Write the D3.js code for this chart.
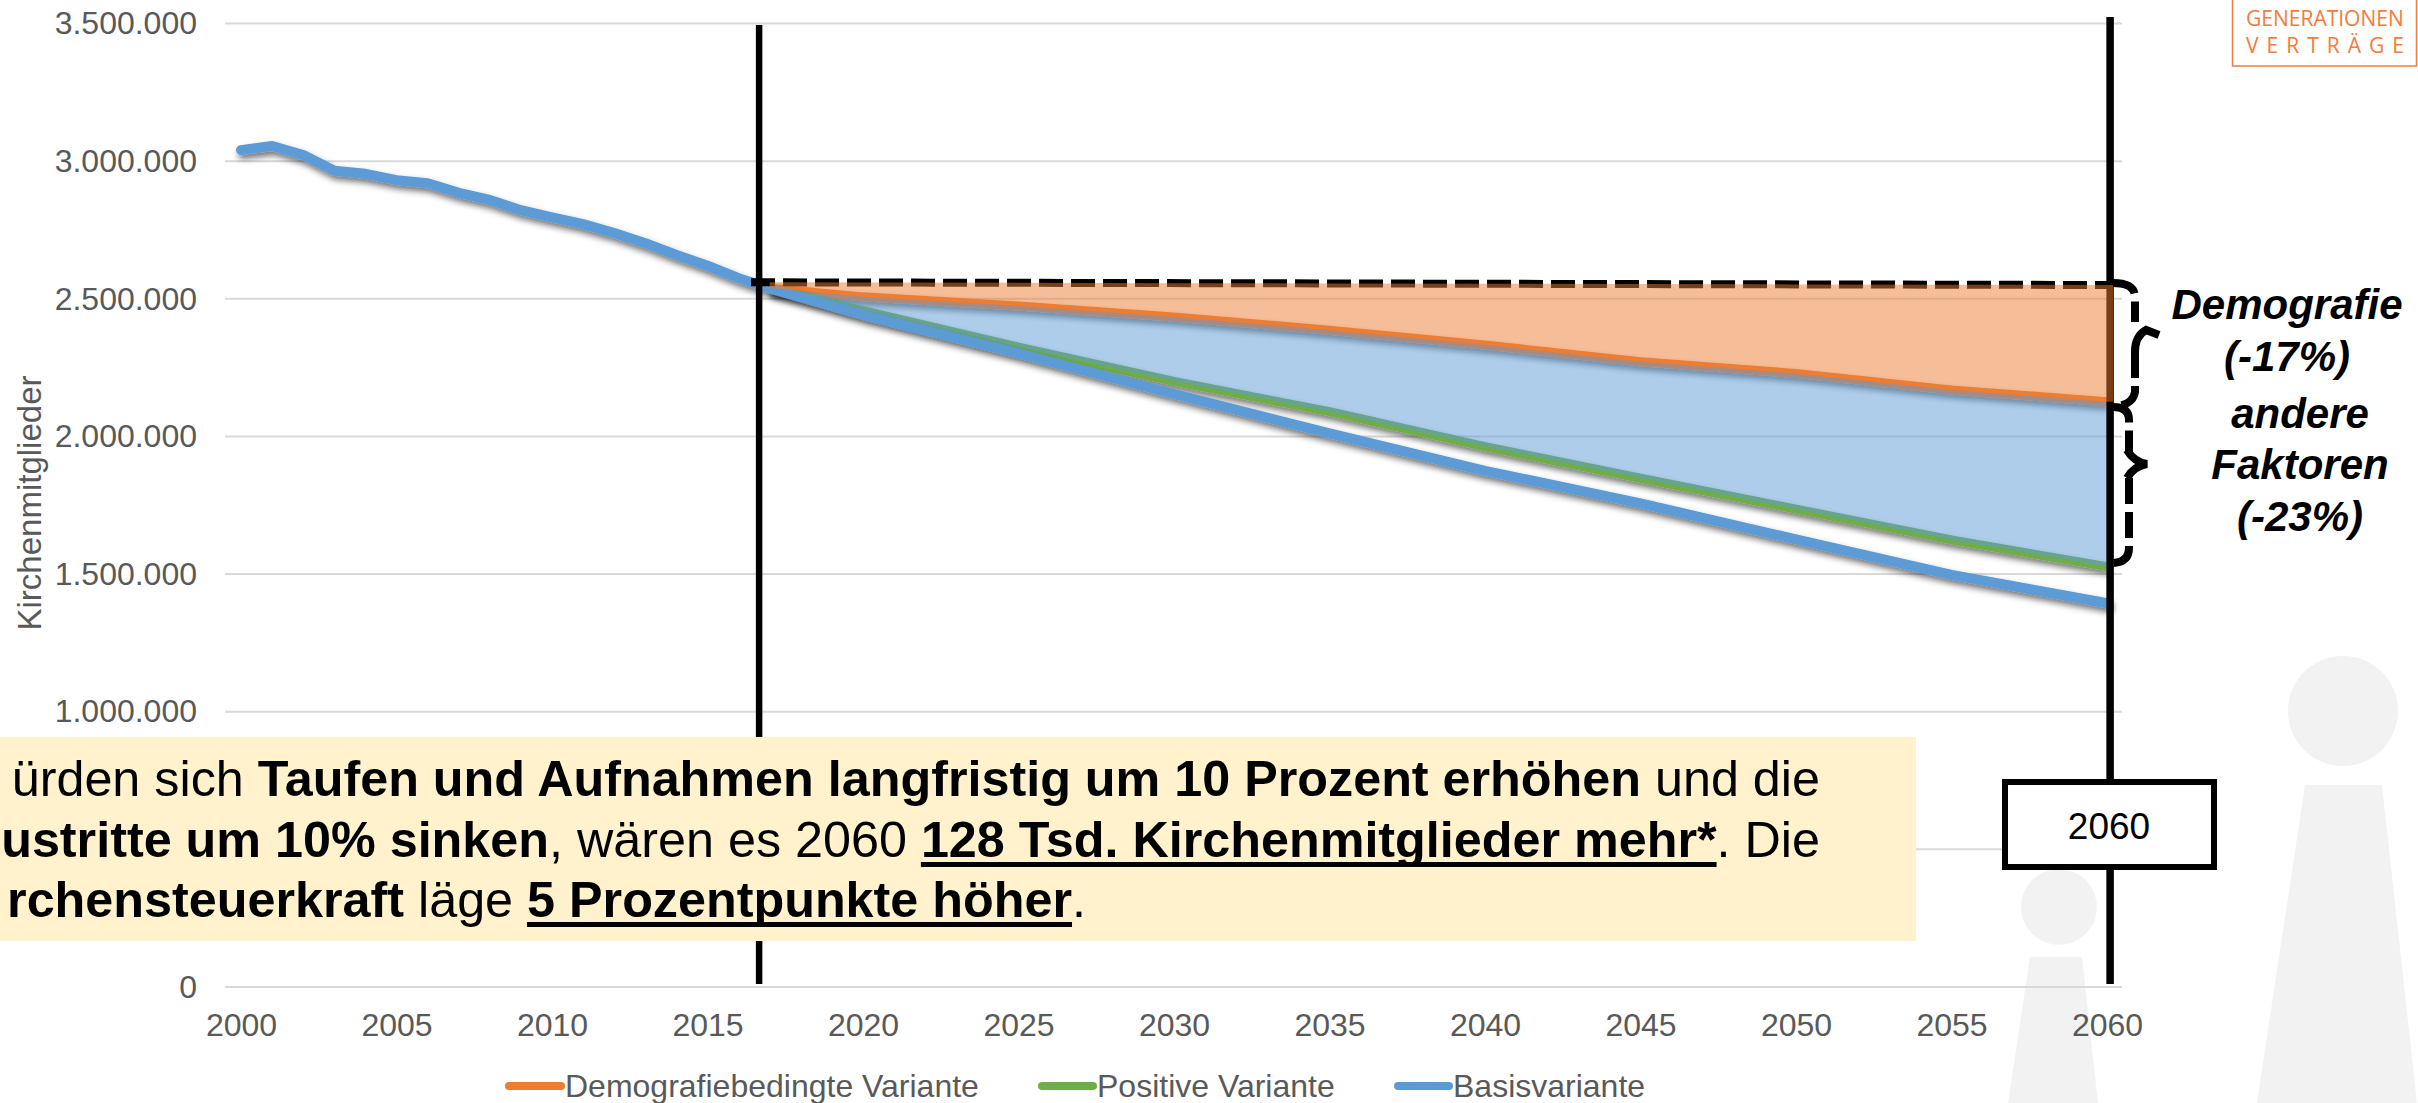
<!DOCTYPE html>
<html>
<head>
<meta charset="utf-8">
<script src="https://d3js.org/d3.v7.min.js"></script>
<style>
html, body { margin: 0; padding: 0; background: #fff; overflow: hidden; }
text { font-family: "Liberation Sans", Arial, sans-serif; }
</style>
</head>
<body>
<div id="chart"></div>
<script>
var yTicks = [0, 500000, 1000000, 1500000, 2000000, 2500000, 3000000, 3500000];
var yHiddenLabel = 500000; // sits behind the yellow note in the original
var xTicks = [2000, 2005, 2010, 2015, 2020, 2025, 2030, 2035, 2040, 2045, 2050, 2055, 2060];

var histYears = [2000, 2001, 2002, 2003, 2004, 2005, 2006, 2007, 2008, 2009, 2010, 2011, 2012, 2013, 2014, 2015, 2016, 2017];
var histValues = [3040000, 3055000, 3022000, 2965000, 2954000, 2931000, 2920000, 2885000, 2859000, 2822000, 2796000, 2771000, 2739000, 2702000, 2659000, 2620000, 2575000, 2538000];

var projYears = [2017, 2020, 2025, 2030, 2035, 2040, 2045, 2050, 2055, 2060];
var demografie = [2538000, 2507000, 2474000, 2434000, 2386000, 2332000, 2271000, 2229000, 2169000, 2126000];
var positiv = [2538000, 2457000, 2324000, 2200000, 2090000, 1963000, 1848000, 1736000, 1624000, 1527000];
var basis = [2538000, 2441000, 2302000, 2154000, 2011000, 1875000, 1757000, 1626000, 1497000, 1394000];

var legendLabels = ["Demografiebedingte Variante", "Positive Variante", "Basisvariante"];
var colors = ["#ED7D31", "#70AD47", "#5B9BD5"];

var width = 2418, height = 1103;

var svg = d3.select("#chart").append("svg")
    .attr("width", width)
    .attr("height", height);

var defs = svg.append("defs");
var shadow = defs.append("filter").attr("id", "shadow")
    .attr("filterUnits", "userSpaceOnUse")
    .attr("x", 0).attr("y", 0).attr("width", width).attr("height", height);
shadow.append("feDropShadow")
    .attr("dx", 2).attr("dy", 4).attr("stdDeviation", 3)
    .attr("flood-color", "#000").attr("flood-opacity", 0.55);

// x is a category axis in the original, so 2000 and 2060 sit half a step inside the grid
var x = d3.scaleLinear().domain([2000, 2060]).range([241, 2107]);
var y = d3.scaleLinear().domain([0, 3500000]).range([987, 23.5]);
var gridLeft = 225, gridRight = 2122;

// grey people in the background
var people = svg.append("g").attr("fill", "#f2f2f2");
people.append("circle").attr("cx", 2059).attr("cy", 907).attr("r", 38);
people.append("path").attr("d", "M2030,957 L2082,957 L2098,1103 L2008,1103 Z");
people.append("circle").attr("cx", 2343).attr("cy", 711).attr("r", 55);
people.append("path").attr("d", "M2305,785 L2382,785 L2417,1103 L2257,1103 Z");

// grid
svg.append("g").selectAll("line")
    .data(yTicks)
    .enter().append("line")
      .attr("x1", gridLeft)
      .attr("x2", gridRight)
      .attr("y1", function(d) { return y(d); })
      .attr("y2", function(d) { return y(d); })
      .attr("stroke", "#d9d9d9")
      .attr("stroke-width", 2);

// axes
var fmt = d3.format(",");
var yAxis = svg.append("g")
    .attr("transform", "translate(205,0)")
    .call(d3.axisLeft(y).tickValues(yTicks).tickSize(0).tickPadding(8)
      .tickFormat(function(d) { return fmt(d).replace(/,/g, "."); }));
yAxis.select(".domain").remove();
yAxis.selectAll(".tick").filter(function(d) { return d == yHiddenLabel; }).remove();
yAxis.selectAll("text")
    .style("font-family", "Liberation Sans")
    .style("font-size", "32px")
    .attr("fill", "#595959");

var xAxis = svg.append("g")
    .attr("transform", "translate(0,1013)")
    .call(d3.axisBottom(x).tickValues(xTicks).tickSize(0).tickPadding(0).tickFormat(d3.format("d")));
xAxis.select(".domain").remove();
xAxis.selectAll("text")
    .style("font-family", "Liberation Sans")
    .style("font-size", "32px")
    .attr("fill", "#595959");

svg.append("text")
    .attr("transform", "translate(41,503) rotate(-90)")
    .attr("text-anchor", "middle")
    .attr("font-size", 33)
    .attr("fill", "#595959")
    .text("Kirchenmitglieder");

// series
var line = d3.line()
    .x(function(d) { return x(d[0]); })
    .y(function(d) { return y(d[1]); });

function pairs(years, values) {
  return years.map(function(yr, i) { return [yr, values[i]]; });
}

svg.append("path")
    .attr("d", line(pairs(projYears, demografie)))
    .attr("fill", "none").attr("stroke", colors[0]).attr("stroke-width", 9)
    .attr("filter", "url(#shadow)");
svg.append("path")
    .attr("d", line(pairs(projYears, positiv)))
    .attr("fill", "none").attr("stroke", colors[1]).attr("stroke-width", 9)
    .attr("filter", "url(#shadow)");
svg.append("path")
    .attr("d", line(pairs(histYears.concat(projYears.slice(1)), histValues.concat(basis.slice(1)))))
    .attr("fill", "none").attr("stroke", colors[2]).attr("stroke-width", 10)
    .attr("stroke-linejoin", "round").attr("stroke-linecap", "round")
    .attr("filter", "url(#shadow)");

// blue wedge between demografie and positiv
var wedge = d3.area()
    .x(function(d) { return x(d.year); })
    .y0(function(d) { return y(d.top); })
    .y1(function(d) { return y(d.bottom); });

var blueWedge = projYears.map(function(yr, i) {
  return { year: yr, top: demografie[i], bottom: positiv[i] };
});
svg.append("path")
    .attr("d", wedge(blueWedge))
    .attr("fill", colors[2])
    .attr("fill-opacity", 0.5);

// vertical markers
var markerYears = [2016.66, 2060.1];
svg.append("g").selectAll("line")
    .data(markerYears)
    .enter().append("line")
      .attr("x1", function(d) { return x(d); })
      .attr("x2", function(d) { return x(d); })
      .attr("y1", function(d, i) { return i == 0 ? 25 : 17; })
      .attr("y2", 984)
      .attr("stroke", "#000")
      .attr("stroke-width", function(d, i) { return i == 0 ? 6.5 : 7.5; });

// dashed reference line at the 2016 level
var refYears = [2016.4, 2060];
var refValues = [2560000, 2550000];
svg.append("path")
    .attr("d", line(pairs(refYears, refValues)))
    .attr("fill", "none").attr("stroke", "#000").attr("stroke-width", 8)
    .attr("stroke-dasharray", "24,8");

// orange wedge on top of the marker and the dashes
var orangeTop = d3.scaleLinear().domain(refYears).range(refValues);
var orangeYears = projYears.concat([2060.2]);
var orangeVals = demografie.concat([demografie[demografie.length - 1]]);
var orangeWedge = orangeYears.map(function(yr, i) {
  return { year: yr, top: orangeTop(yr), bottom: orangeVals[i] };
});
svg.append("path")
    .attr("d", wedge(orangeWedge))
    .attr("fill", colors[0])
    .attr("fill-opacity", 0.5);

// dashed braces, tips solid
var braceDashed = [
  "M2113,283 C2128,283 2135,287 2135,298 L2135,322",
  "M2135,352 L2135,392 Q2133,405 2113,407",
  "M2113,407 Q2129,407 2129,420 L2129,452",
  "M2129,478 L2129,548 Q2129,562 2113,563"
];
var braceSolid = [
  "M2159,335 L2146,330 Q2135,336 2135,352",
  "M2127,450 Q2134,462 2147,464 Q2134,466 2127,478"
];
svg.append("g").selectAll("path")
    .data(braceDashed)
    .enter().append("path")
      .attr("d", function(d) { return d; })
      .attr("fill", "none")
      .attr("stroke", "#000")
      .attr("stroke-width", 8)
      .attr("stroke-dasharray", "26,8");
svg.append("g").selectAll("path")
    .data(braceSolid)
    .enter().append("path")
      .attr("d", function(d) { return d; })
      .attr("fill", "none")
      .attr("stroke", "#000")
      .attr("stroke-width", 8);

var notes = [
  {t: "Demografie", x: 2287, y: 319},
  {t: "(-17%)", x: 2287, y: 371},
  {t: "andere", x: 2300, y: 428},
  {t: "Faktoren", x: 2300, y: 479},
  {t: "(-23%)", x: 2300, y: 531}
];
svg.append("g").selectAll("text")
    .data(notes)
    .enter().append("text")
      .attr("x", function(d) { return d.x; })
      .attr("y", function(d) { return d.y; })
      .attr("text-anchor", "middle")
      .attr("font-size", 42)
      .attr("font-weight", "bold")
      .attr("font-style", "italic")
      .text(function(d) { return d.t; });

// 2060 box
svg.append("rect")
    .attr("x", 2005).attr("y", 782).attr("width", 209).attr("height", 85)
    .attr("fill", "#fff").attr("stroke", "#000").attr("stroke-width", 6);
svg.append("text")
    .attr("x", 2109).attr("y", 839)
    .attr("text-anchor", "middle")
    .attr("font-size", 37)
    .text("2060");

// yellow note, its text starts at the left page edge as far as the original shows it
svg.append("rect")
    .attr("x", 0).attr("y", 737).attr("width", 1916).attr("height", 204)
    .attr("fill", "#FFF2CC");

var noteLines = [
  {y: 796, parts: [
    {t: "ürden sich "},
    {t: "Taufen und Aufnahmen langfristig um 10 Prozent erhöhen", b: 1},
    {t: " und die"}]},
  {y: 857, parts: [
    {t: "ustritte um 10% sinken", b: 1},
    {t: ", wären es 2060 "},
    {t: "128 Tsd. Kirchenmitglieder mehr*", b: 1, u: 1},
    {t: ". Die"}]},
  {y: 917, parts: [
    {t: "rchensteuerkraft", b: 1},
    {t: " läge "},
    {t: "5 Prozentpunkte höher", b: 1, u: 1},
    {t: "."}]}
];
var noteEnds = [1820, 1820, 1086];
noteLines.forEach(function(l, i) {
  var txt = svg.append("text")
      .attr("x", noteEnds[i])
      .attr("y", l.y)
      .attr("text-anchor", "end")
      .attr("font-size", 50.3)
      .style("white-space", "pre");
  l.parts.forEach(function(p) {
    var span = txt.append("tspan")
      .attr("font-weight", p.b ? "bold" : "normal")
      .text(p.t);
    p.node = span.node();
  });
  // heavier underline than the browser draws, measured from the tspan
  l.parts.filter(function(p) { return p.u; }).forEach(function(p) {
    svg.append("rect")
      .attr("x", p.node.getStartPositionOfChar(0).x)
      .attr("y", l.y + 5)
      .attr("width", p.node.getComputedTextLength())
      .attr("height", 5)
      .attr("fill", "#000");
  });
});

// legend
var legendX = [505, 1038, 1394];
var legendW = [60, 59, 59];
var legend = svg.append("g").selectAll("g")
    .data(legendLabels)
    .enter().append("g");
legend.append("line")
    .attr("x1", function(d, i) { return legendX[i] + 4; })
    .attr("x2", function(d, i) { return legendX[i] + legendW[i] - 4; })
    .attr("y1", 1086).attr("y2", 1086)
    .attr("stroke", function(d, i) { return colors[i]; })
    .attr("stroke-width", 8)
    .attr("stroke-linecap", "round");
legend.append("text")
    .attr("x", function(d, i) { return legendX[i] + legendW[i]; })
    .attr("y", 1097)
    .attr("font-size", 32)
    .attr("fill", "#595959")
    .text(function(d) { return d; });

// logo, cut off at the top edge
svg.append("rect")
    .attr("x", 2232.5).attr("y", -10).attr("width", 184).attr("height", 76)
    .attr("fill", "none").attr("stroke", "#F47B3C").attr("stroke-width", 1.5);
svg.append("text")
    .attr("x", 2246).attr("y", 26)
    .attr("font-size", 21)
    .attr("fill", "#F47B3C")
    .style("font-family", "Open Sans")
    .text("GENERATIONEN");
svg.append("text")
    .attr("x", 2246).attr("y", 53)
    .attr("font-size", 21)
    .attr("letter-spacing", 8)
    .attr("fill", "#F47B3C")
    .style("font-family", "Open Sans")
    .text("VERTRÄGE");
</script>
</body>
</html>
